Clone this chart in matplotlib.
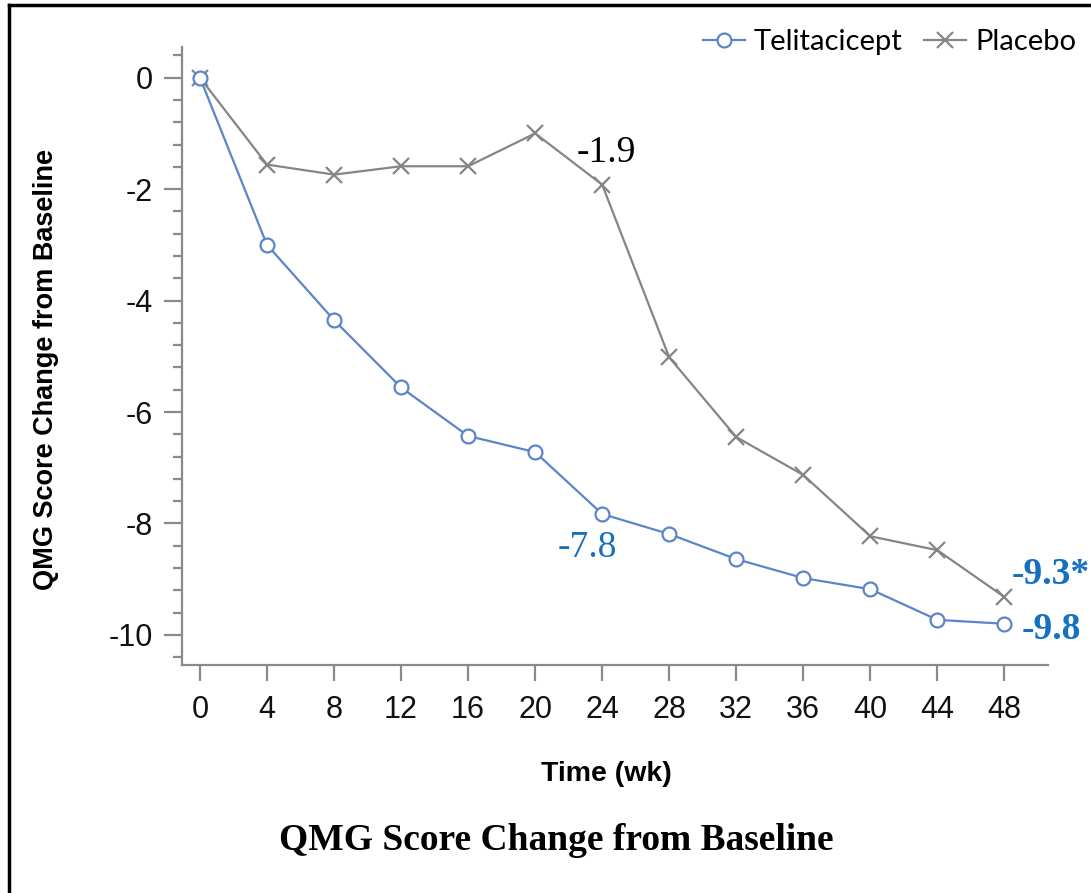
import matplotlib
matplotlib.use("Agg")
import matplotlib.pyplot as plt
from matplotlib.lines import Line2D
from matplotlib.ticker import MultipleLocator
from matplotlib import font_manager

plt.rcParams["axes.unicode_minus"] = False

weeks = [0, 4, 8, 12, 16, 20, 24, 28, 32, 36, 40, 44, 48]
telitacicept = [0, -3.0, -4.35, -5.56, -6.43, -6.72, -7.83, -8.19, -8.64, -8.98, -9.18, -9.73, -9.80]
placebo = [0, -1.56, -1.74, -1.59, -1.59, -1.00, -1.92, -5.02, -6.45, -7.13, -8.23, -8.48, -9.32]
series_names = ["Telitacicept", "Placebo"]
yticks = [0, -2, -4, -6, -8, -10]
xticks = weeks

available = {f.name for f in font_manager.fontManager.ttflist}
if "Liberation Sans Narrow" in available:
    leg_font, leg_size = "Liberation Sans Narrow", 24
else:
    leg_font, leg_size = "Lato", 21

W, H = 1091, 893
fig = plt.figure(figsize=(W / 100, H / 100), dpi=100)
ax = fig.add_axes([182 / W, 1 - 665 / H, (1048 - 182) / W, (665 - 47) / H])

blue = "#5B85C8"
gray = "#858585"
ax.plot(weeks, placebo, color=gray, lw=1.6, marker="x", ms=11, mew=1.6, label=series_names[1], zorder=3)
ax.plot(weeks, telitacicept, color=blue, lw=1.6, marker="o", ms=10, mfc="white", mec=blue, mew=1.6,
        label=series_names[0], zorder=4)

ax.set_xlim(-1.07, 50.6)
ax.set_ylim(-10.54, 0.55)
ax.set_xticks(xticks)
ax.set_yticks(yticks)
ax.yaxis.set_minor_locator(MultipleLocator(0.4))
for s in ["top", "right"]:
    ax.spines[s].set_visible(False)
for s in ["left", "bottom"]:
    ax.spines[s].set_color("#8a8a8a")
    ax.spines[s].set_linewidth(1.6)
ax.tick_params(axis="both", which="major", direction="out", color="#8a8a8a", width=1.6,
               labelsize=22, labelcolor="#111111")
ax.tick_params(axis="y", which="major", length=13, pad=8)
ax.tick_params(axis="y", which="minor", length=6.5, width=1.6, color="#8a8a8a")
ax.tick_params(axis="x", which="major", length=11.5, pad=10)
for lab in ax.get_xticklabels() + ax.get_yticklabels():
    lab.set_fontfamily("Liberation Sans")

fig.text(606 / W, 1 - 774 / H, "Time (wk)", ha="center", va="center", fontsize=20.5,
         fontweight="bold", family="Liberation Sans")
fig.text(46 / W, 1 - 370 / H, "QMG Score Change from Baseline", ha="center", va="center",
         rotation=90, fontsize=19.5, fontweight="bold", family="Liberation Sans")
fig.text(556 / W, 1 - 840 / H, "QMG Score Change from Baseline", ha="center", va="center",
         fontsize=27, fontweight="bold", family="Liberation Serif")

ann_blue = "#1570C0"
ax.text(22.5, -1.34, "-1.9", ha="left", va="center", fontsize=27, family="Liberation Serif", color="black")
ax.text(23.1, -8.44, "-7.8", ha="center", va="center", fontsize=27, family="Liberation Serif", color=ann_blue)
ax.text(48.4, -8.92, "-9.3*", ha="left", va="center", fontsize=27, fontweight="bold",
        family="Liberation Serif", color=ann_blue)
ax.text(49.0, -9.91, "-9.8", ha="left", va="center", fontsize=27, fontweight="bold",
        family="Liberation Serif", color=ann_blue)

handles = [
    Line2D([], [], color=blue, lw=1.6, marker="o", ms=10, mfc="white", mec=blue, mew=1.6),
    Line2D([], [], color=gray, lw=1.6, marker="x", ms=11, mew=1.6),
]
hl = 42 / (leg_size * 100 / 72)
leg = ax.legend(handles, series_names, loc="center right", bbox_to_anchor=(1076 / W, 1 - 42 / H),
                bbox_transform=fig.transFigure, ncol=2, frameon=False, handlelength=hl,
                handletextpad=0.3, columnspacing=0.75, borderaxespad=0, borderpad=0,
                prop={"family": leg_font, "size": leg_size})

# frame lines (left and top)
fig.add_artist(Line2D([9 / W, 9 / W], [0, 1 - 5 / H], transform=fig.transFigure, color="black", lw=2.5))
fig.add_artist(Line2D([9 / W, 1], [1 - 5 / H, 1 - 5 / H], transform=fig.transFigure, color="black", lw=2.5))

fig.savefig("out.png", dpi=100)
